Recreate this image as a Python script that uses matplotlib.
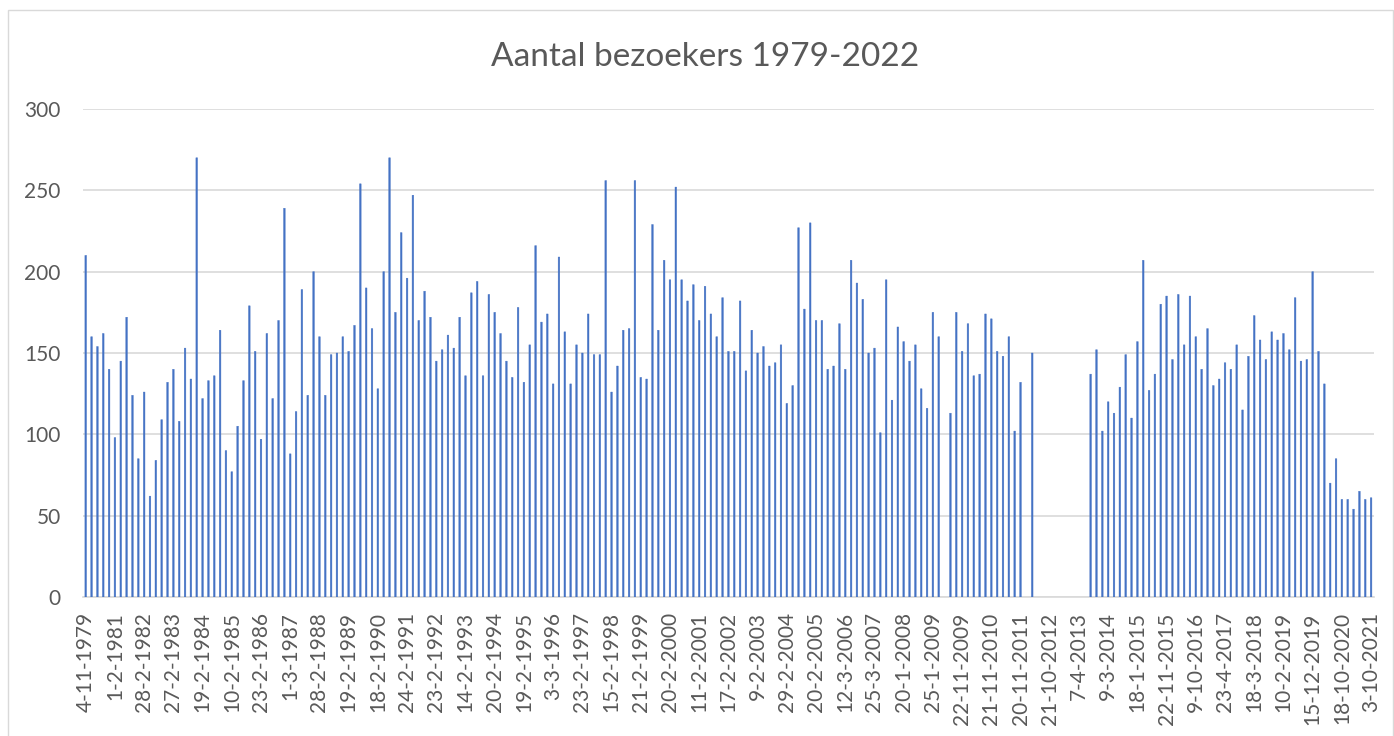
import numpy as np
import matplotlib
matplotlib.use("Agg")
import matplotlib.pyplot as plt
from matplotlib.patches import Rectangle

plt.rcParams['font.family'] = ['Lato', 'DejaVu Sans']

title = "Aantal bezoekers 1979-2022"

tick_labels = [
    "4-11-1979", "1-2-1981", "28-2-1982", "27-2-1983", "19-2-1984", "10-2-1985",
    "23-2-1986", "1-3-1987", "28-2-1988", "19-2-1989", "18-2-1990", "24-2-1991",
    "23-2-1992", "14-2-1993", "20-2-1994", "19-2-1995", "3-3-1996", "23-2-1997",
    "15-2-1998", "21-2-1999", "20-2-2000", "11-2-2001", "17-2-2002", "9-2-2003",
    "29-2-2004", "20-2-2005", "12-3-2006", "25-3-2007", "20-1-2008", "25-1-2009",
    "22-11-2009", "21-11-2010", "20-11-2011", "21-10-2012", "7-4-2013", "9-3-2014",
    "18-1-2015", "22-11-2015", "9-10-2016", "23-4-2017", "18-3-2018", "10-2-2019",
    "15-12-2019", "18-10-2020", "3-10-2021",
]

N = None
visitors = [
    210, 160, 154, 162, 140, 98, 145, 172, 124, 85,
    126, 62, 84, 109, 132, 140, 108, 153, 134, 270,
    122, 133, 136, 164, 90, 77, 105, 133, 179, 151,
    97, 162, 122, 170, 239, 88, 114, 189, 124, 200,
    160, 124, 149, 150, 160, 151, 167, 254, 190, 165,
    128, 200, 270, 175, 224, 196, 247, 170,
    188, 172,
    145, 152, 161, 153, 172, 136, 187, 194, 136, 186,
    175, 162, 145, 135, 178, 132, 155, 216, 169, 174,
    131, 209, 163, 131, 155, 150, 174, 149, 149, 256,
    126, 142, 164, 165, 256, 135, 134, 229, 164, 207,
    195, 252, 195, 182, 192, 170, 191, 174, 160, 184,
    151, 151, 182, 139, 164, 150, 154, 142, 144,
    155, 119, 130, 227, 177, 230, 170, 170, 140, 142, 168,
    140, 207, 193, 183, 150, 153, 101, 195, 121, 166,
    157, 145, 155, 128, 116, 175, 160,
    N,
    113, 175, 151, 168, 136, 137, 174, 171, 151, 148, 160, 102, 132,
    N,
    150,
    N, N, N, N, N, N, N, N, N,
    137, 152, 102, 120, 113, 129, 149, 110, 157, 207,
    127, 137, 180, 185, 146, 186, 155, 185, 160, 140,
    165, 130, 134, 144, 140, 155, 115, 148, 173, 158,
    146, 163, 158, 162, 152, 184, 145, 146, 200, 151,
    131, 70, 85, 60, 60, 54, 65, 60, 61,
]

vals = np.array([np.nan if v is None else v for v in visitors], dtype=float)
x = np.arange(len(vals))

W, H = 1394, 736
fig = plt.figure(figsize=(W / 100, H / 100), dpi=100)
fig.patch.set_facecolor("white")

# chart border
fig.patches.append(Rectangle((8 / W, -0.01), (W - 9) / W, (H - 10) / H + 0.01,
                             transform=fig.transFigure, fill=False,
                             edgecolor="#D9D9D9", linewidth=1.0))

left, right = 82.8, 1374
top, bottom = 109, 597
ax = fig.add_axes([left / W, (H - bottom) / H, (right - left) / W, (bottom - top) / H])

ax.bar(x, vals, width=0.28, color="#4472C4", edgecolor="#4472C4",
       linewidth=0.3, snap=False, zorder=3)

ax.set_xlim(-0.5, len(vals) - 0.5)
ax.set_ylim(0, 300)
ax.set_yticks(np.arange(0, 301, 50))
ax.yaxis.grid(True, color="#D9D9D9", linewidth=1.2, zorder=0)
ax.set_axisbelow(True)

ax.set_xticks(np.arange(0, len(vals), 5)[:len(tick_labels)])
ax.set_xticklabels(tick_labels, rotation=90, fontsize=15, color="#595959")
ax.tick_params(axis='x', length=0, pad=11)
ax.tick_params(axis='y', length=0, pad=16, labelsize=15, labelcolor="#595959")

for s in ["top", "right", "left"]:
    ax.spines[s].set_visible(False)
ax.spines["bottom"].set_color("#D9D9D9")
ax.spines["bottom"].set_linewidth(1.2)

fig.text(705 / W, 1 - 57 / H, title, ha="center", va="center",
         fontsize=24, color="#595959")

fig.savefig("out.png", dpi=100, facecolor="white")
